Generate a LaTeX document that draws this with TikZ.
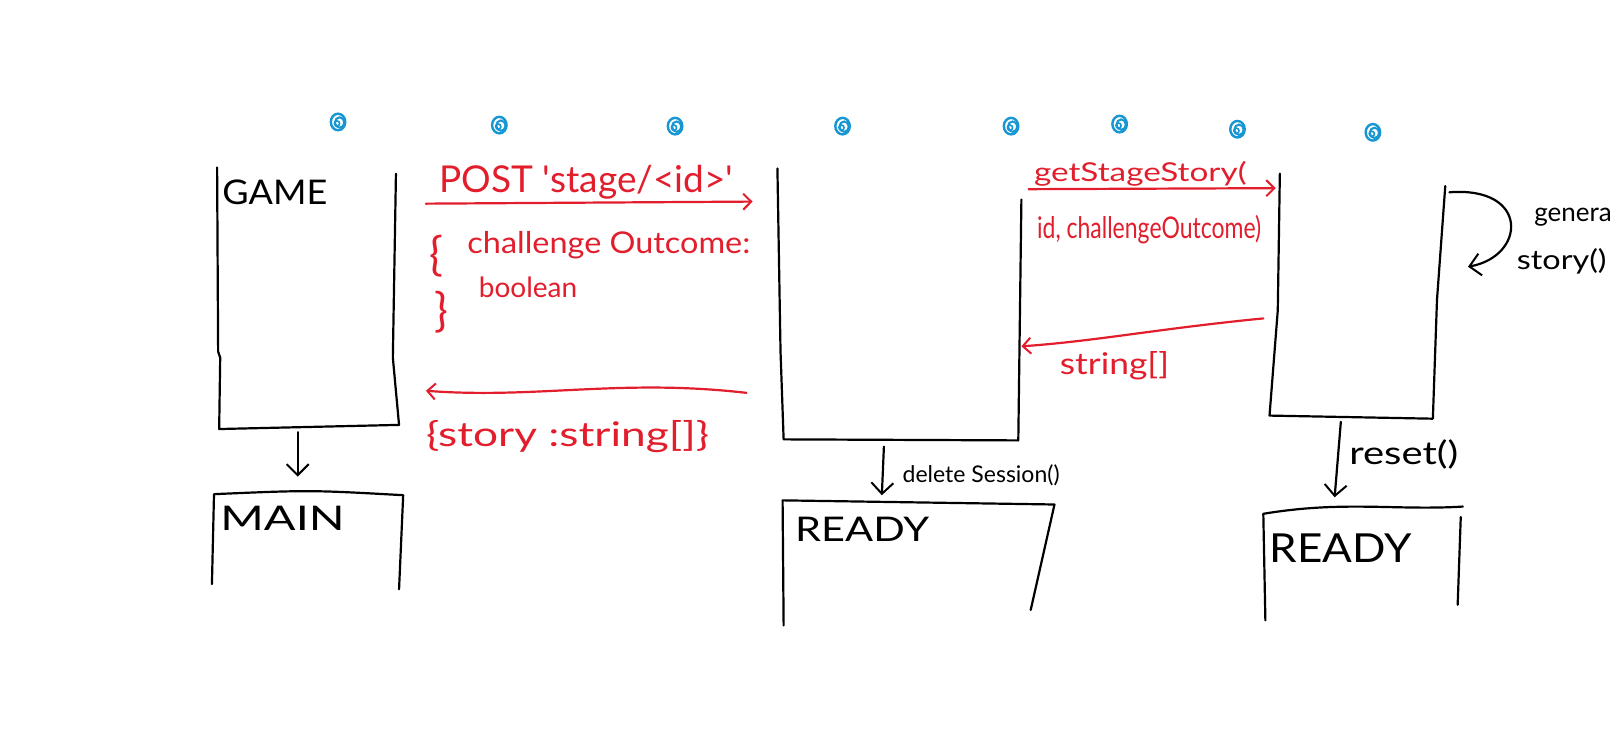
\documentclass[tikz,border=0pt]{standalone}
\usepackage{fontspec}
\setmainfont{Lato}
\usetikzlibrary{arrows.meta}
\definecolor{hred}{RGB}{226,30,45}
\definecolor{hblue}{RGB}{22,150,210}
\begin{document}
\begin{tikzpicture}[x=1.0338pt,y=-1.0338pt,
  ink/.style={line width=2.2pt,line cap=round,line join=round},
  blk/.style={ink,black},
  redink/.style={ink,hred},
  arr/.style={-{Straight Barb[length=11pt,width=22pt,line width=2pt]}},
  rarr/.style={-{Straight Barb[length=8pt,width=16pt,line width=2pt]}},
  dotink/.style={hblue,line width=2.4pt},
  txt/.style={inner sep=0pt,anchor=base west},
  fs/.style={font=\fontsize{#1}{#1}\selectfont},
  rtxt/.style={txt,text=hred,fs=#1},
  ]
\fill[white] (0,0) rectangle (1568,728);
\useasboundingbox (0,0) rectangle (1568,728);

% blue dots
\foreach \px/\py in {327/118,483/121,653/122,815/122,978/122,1083/120,1197/125,1328/128}{
  \draw[dotink] (\px,\py) circle[x radius=7,y radius=8];
  \draw[dotink,line width=2pt] (\px+1.5,\py+0.5) circle[x radius=4.5,y radius=5];
  \draw[dotink,line width=1.6pt] (\px-1,\py+1.5) circle[radius=2.5];
}

% GAME box
\draw[blk] (210,162) -- (211,340) -- (213,346) -- (212,415) -- (386,411) -- (380,346) -- (383,168);
\node[txt,fs=34] (game) at (215,198) {\scalebox{1.06}[1]{GAME}};
\coordinate (gameB) at (288,418);
\coordinate (mainT) at (288,461);
\draw[blk,arr] (gameB) -- (mainT);
% MAIN box
\draw[blk] (205,565) -- (207,478) .. controls (300,474) .. (390,479) -- (386,570);
\node[txt,fs=34] (main) at (213,513) {\scalebox{1.38}[1]{MAIN}};

% middle box
\draw[blk] (752,163) -- (755,340) -- (758,425) -- (985,426) -- (988,193);
\coordinate (midB) at (855,432);
\coordinate (rdyAT) at (853,479);
\draw[blk,arr] (midB) -- (rdyAT);
\node[txt,fs=23] (del) at (873,467) {delete Session()};
% READY 1
\draw[blk] (758,605) -- (757,484) -- (1020,488) -- (997,590);
\node[txt,fs=34] (rdyA) at (769,524) {\scalebox{1.22}[1]{READY}};

% right box
\draw[blk] (1238,168) -- (1236,300) -- (1228,402) -- (1386,405) -- (1390,290) -- (1398,180);
\coordinate (rB) at (1297,408);
\coordinate (rdyBT) at (1291,481);
\draw[blk,arr] (rB) -- (rdyBT);
\node[txt,fs=32] (reset) at (1305,449) {\scalebox{1.25}[1]{reset()}};
% READY 2
\draw[blk] (1224,600) -- (1222,497) .. controls (1300,484) and (1350,494) .. (1415,490);
\draw[blk] (1413,500) -- (1410,585);
\node[txt,fs=40] (rdyB) at (1228,544) {\scalebox{1.1}[1]{READY}};

% self loop generate story
\coordinate (gs1) at (1402,186);
\coordinate (gs2) at (1420,258);
\draw[blk,arr] (gs1) .. controls (1480,180) and (1476,248) .. (gs2);
\node[txt,fs=26] (gen) at (1484,214) {genera};
\node[txt,fs=27] (story) at (1467,261) {\scalebox{1.2}[1]{story()}};

% red arrows
\coordinate (p1s) at (412,197);
\coordinate (p1e) at (728,195);
\draw[redink,rarr] (p1s) -- (p1e);
\node[rtxt=37] (post) at (425,186) {POST \textquotesingle stage/<id>\textquotesingle};
\node[rtxt=46] (ob1) at (415,262) {\{};
\node[rtxt=30] (co) at (452,245) {\scalebox{1.08}[1]{challenge Outcome:}};
\node[rtxt=28] (bool) at (463,288) {boolean};
\node[rtxt=46] (cb1) at (420,316) {\}};

\coordinate (p2s) at (722,380);
\coordinate (p2e) at (412,378);
\draw[redink,rarr] (p2s) .. controls (600,366) and (520,386) .. (p2e);
\node[rtxt=34] (ret) at (412,432) {\scalebox{1.3}[1]{\{story :string[]\}}};

\coordinate (g1s) at (995,183);
\coordinate (g1e) at (1234,182);
\draw[redink,rarr] (g1s) -- (g1e);
\node[rtxt=26] (gss) at (1000,176) {\scalebox{1.28}[1]{getStageStory(}};
\node[rtxt=23] (gsa) at (1003,231) {\scalebox{1}[1.3]{id, challengeOutcome)}};

\coordinate (g2s) at (1222,308);
\coordinate (g2e) at (988,335);
\draw[redink,rarr] (g2s) .. controls (1120,318) and (1060,330) .. (g2e);
\node[rtxt=30] (str) at (1025,362) {\scalebox{1.18}[1]{string[]}};
\end{tikzpicture}
\end{document}
